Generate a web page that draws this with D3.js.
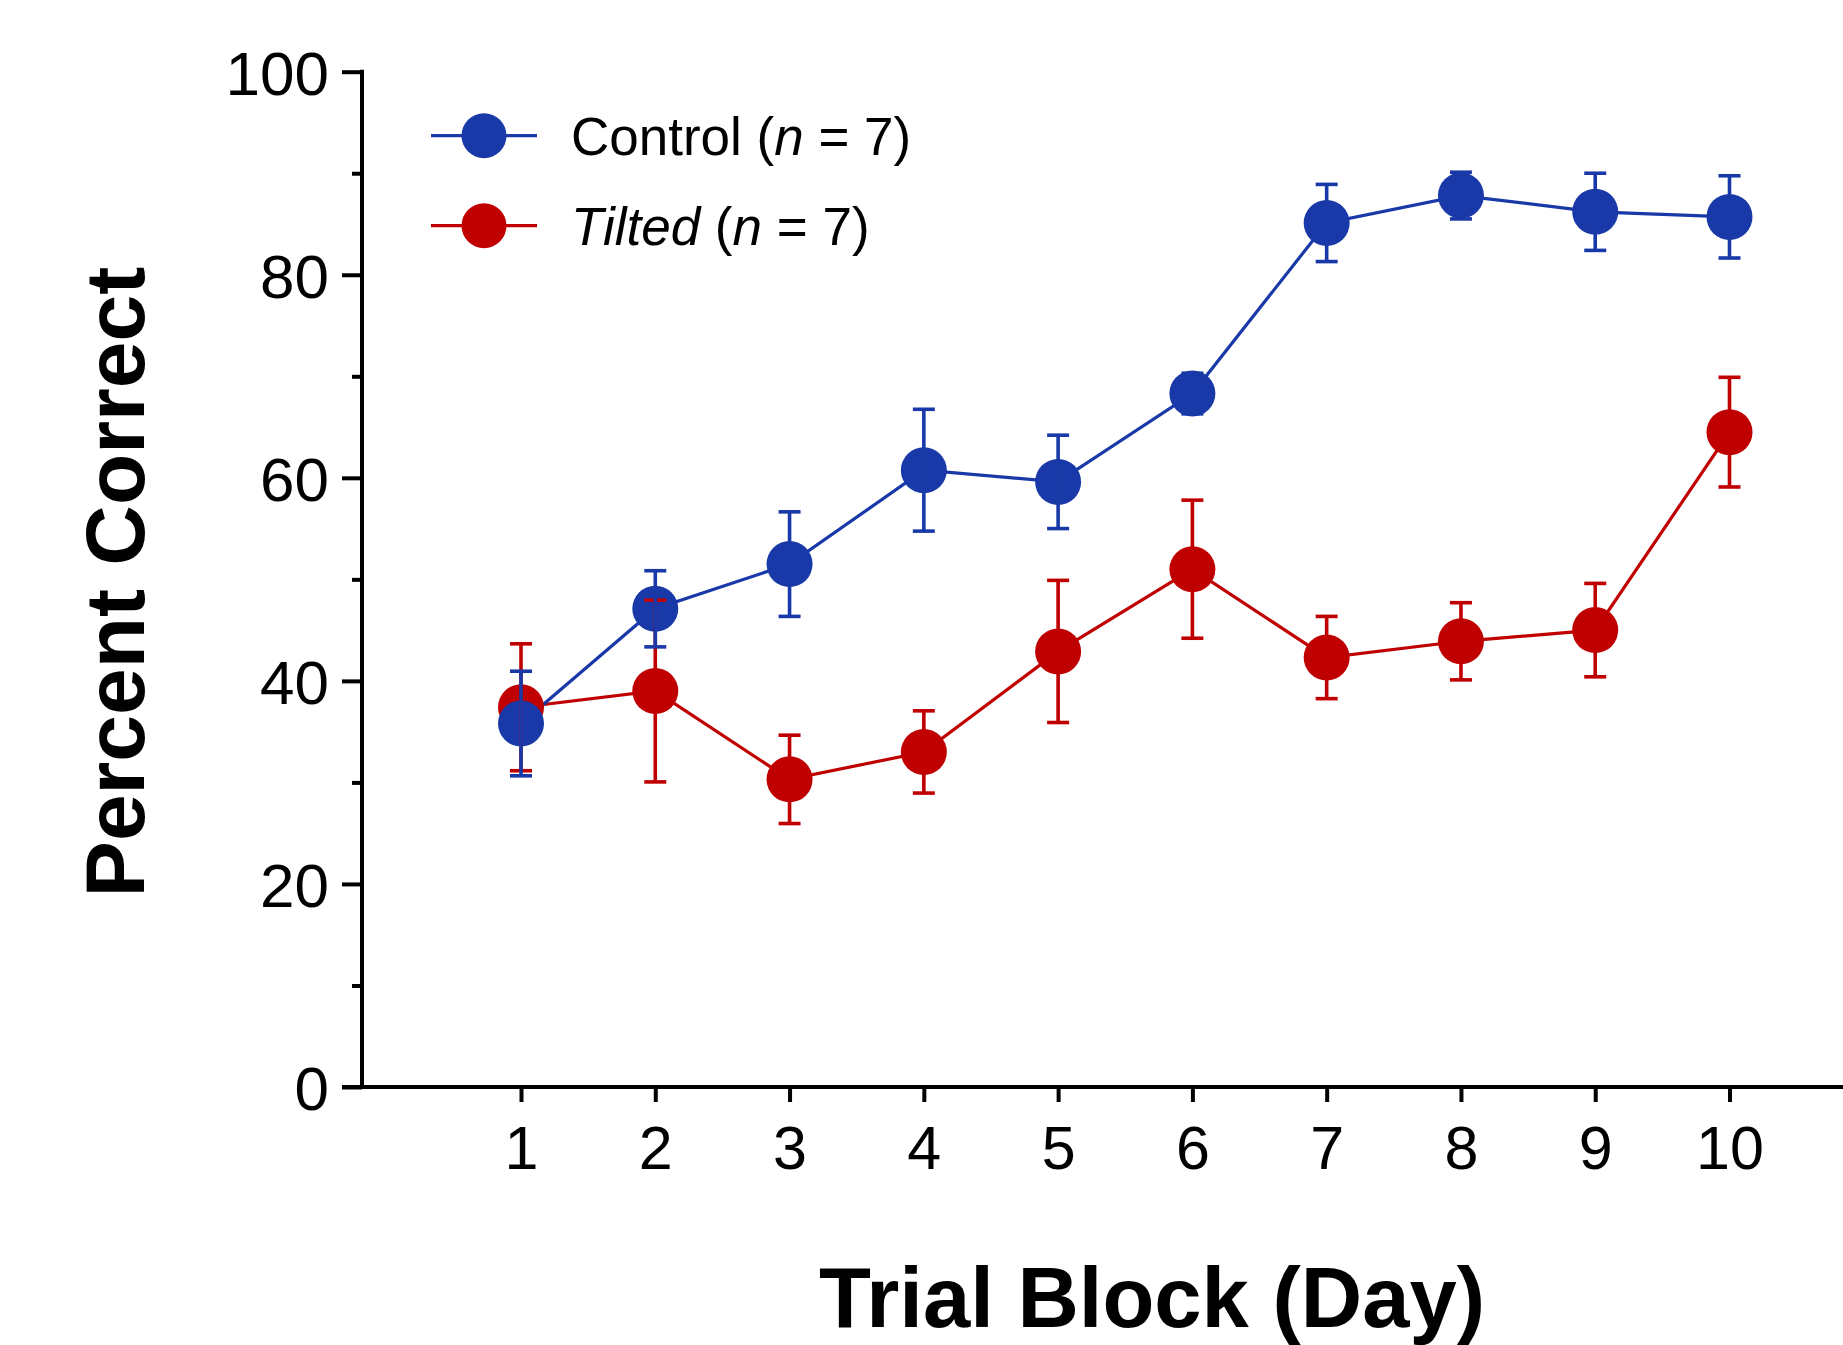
<!DOCTYPE html>
<html>
<head>
<meta charset="utf-8">
<script src="https://cdn.jsdelivr.net/npm/d3@7"></script>
<style>
  html, body { margin: 0; padding: 0; background: #fff; }
  svg { display: block; }
  text { font-family: "Liberation Sans", Arial, Helvetica, sans-serif; fill: #000; }
</style>
</head>
<body>
<svg id="chart" width="1843" height="1345"></svg>
<script>
// ---- data ----
const days = [1, 2, 3, 4, 5, 6, 7, 8, 9, 10];
const controlMean = [35.8, 47.1, 51.5, 60.75, 59.6, 68.3, 85.1, 87.8, 86.2, 85.7];
const controlSEM  = [5.15, 3.75, 5.15, 6.0, 4.6, 2.0, 3.8, 2.3, 3.8, 4.05];
const tiltedMean  = [37.4, 39.0, 30.3, 33.0, 42.9, 51.0, 42.3, 43.9, 45.0, 64.5];
const tiltedSEM   = [6.25, 8.95, 4.35, 4.05, 7.0, 6.8, 4.05, 3.8, 4.6, 5.4];
const yMajorTicks = [0, 20, 40, 60, 80, 100];
const yMinorTicks = [10, 30, 50, 70, 90];
const seriesNames = ["Control", "Tilted"];

const BLUE = "#1839A7";
const RED = "#C00000";

const svg = d3.select("#chart");

const x = d3.scaleLinear().domain([1, 10]).range([521, 1729.5]);
const y = d3.scaleLinear().domain([0, 100]).range([1087, 71.7]);
const axisX0 = 362;

// ---- axes ----
const yAxis = svg.append("g").attr("transform", `translate(${axisX0},0)`)
  .call(d3.axisLeft(y).tickValues(yMajorTicks).tickSize(20).tickPadding(13).tickFormat(d3.format("d")));
yAxis.select(".domain").remove();
yAxis.selectAll(".tick line").attr("stroke", "#000").attr("stroke-width", 4);
yAxis.selectAll(".tick text").style("font-size", "62px").attr("dy", "0.36em");

const yMinor = svg.append("g").attr("transform", `translate(${axisX0},0)`)
  .call(d3.axisLeft(y).tickValues(yMinorTicks).tickSize(10).tickFormat(""));
yMinor.select(".domain").remove();
yMinor.selectAll(".tick line").attr("stroke", "#000").attr("stroke-width", 4);

svg.append("line").attr("x1", axisX0).attr("x2", axisX0)
  .attr("y1", y(100) - 2).attr("y2", y(0) + 2)
  .attr("stroke", "#000").attr("stroke-width", 4);

const xAxis = svg.append("g").attr("transform", `translate(0,${y(0)})`)
  .call(d3.axisBottom(x).tickValues(days).tickSize(15).tickPadding(24).tickFormat(d3.format("d")));
xAxis.select(".domain").remove();
xAxis.selectAll(".tick line").attr("stroke", "#000").attr("stroke-width", 4);
xAxis.selectAll(".tick text").style("font-size", "61px");

svg.append("line").attr("x1", 342).attr("x2", 1843)
  .attr("y1", y(0)).attr("y2", y(0))
  .attr("stroke", "#000").attr("stroke-width", 4);

// ---- titles ----
svg.append("text").attr("x", 1152).attr("y", 1327)
  .attr("text-anchor", "middle").style("font-size", "85px").style("font-weight", "bold")
  .text("Trial Block (Day)");
svg.append("text").attr("transform", "translate(144,582) rotate(-90)")
  .attr("text-anchor", "middle").style("font-size", "84px").style("font-weight", "bold")
  .text("Percent Correct");

// ---- series ----
const series = [
  { name: seriesNames[0], color: BLUE, mean: controlMean, sem: controlSEM },
  { name: seriesNames[1], color: RED, mean: tiltedMean, sem: tiltedSEM }
];
const line = d3.line().x((d, i) => x(days[i])).y(d => y(d));

// lines
[series[1], series[0]].forEach(s => {
  svg.append("path").datum(s.mean).attr("d", line)
    .attr("fill", "none").attr("stroke", s.color).attr("stroke-width", 3.2);
});
// markers
[series[1], series[0]].forEach(s => {
  svg.append("g").selectAll("circle").data(s.mean).join("circle")
    .attr("cx", (d, i) => x(days[i])).attr("cy", d => y(d)).attr("r", 23)
    .attr("fill", s.color);
});
// error bars
[series[1], series[0]].forEach(s => {
  const g = svg.append("g").attr("stroke", s.color).attr("stroke-width", 3.6);
  s.mean.forEach((m, i) => {
    const cx = x(days[i]);
    const top = y(m + s.sem[i]);
    const bot = y(m - s.sem[i]);
    g.append("line").attr("x1", cx).attr("x2", cx).attr("y1", top).attr("y2", bot);
    g.append("line").attr("x1", cx - 11).attr("x2", cx + 11).attr("y1", top).attr("y2", top);
    g.append("line").attr("x1", cx - 11).attr("x2", cx + 11).attr("y1", bot).attr("y2", bot);
  });
});

// ---- legend ----
const legendY = [135.7, 225.7];
series.forEach((s, k) => {
  const ly = legendY[k];
  svg.append("line").attr("x1", 431).attr("x2", 537).attr("y1", ly).attr("y2", ly)
    .attr("stroke", s.color).attr("stroke-width", 3.2);
  svg.append("circle").attr("cx", 484).attr("cy", ly).attr("r", 22.5).attr("fill", s.color);
  const t = svg.append("text").attr("x", 571).attr("y", ly + 19.5).style("font-size", "53px");
  if (k === 0) {
    t.append("tspan").text(s.name + " (");
  } else {
    t.append("tspan").style("font-style", "italic").text(s.name);
    t.append("tspan").text(" (");
  }
  t.append("tspan").style("font-style", "italic").text("n");
  t.append("tspan").text(" = 7)");
});
</script>
</body>
</html>
